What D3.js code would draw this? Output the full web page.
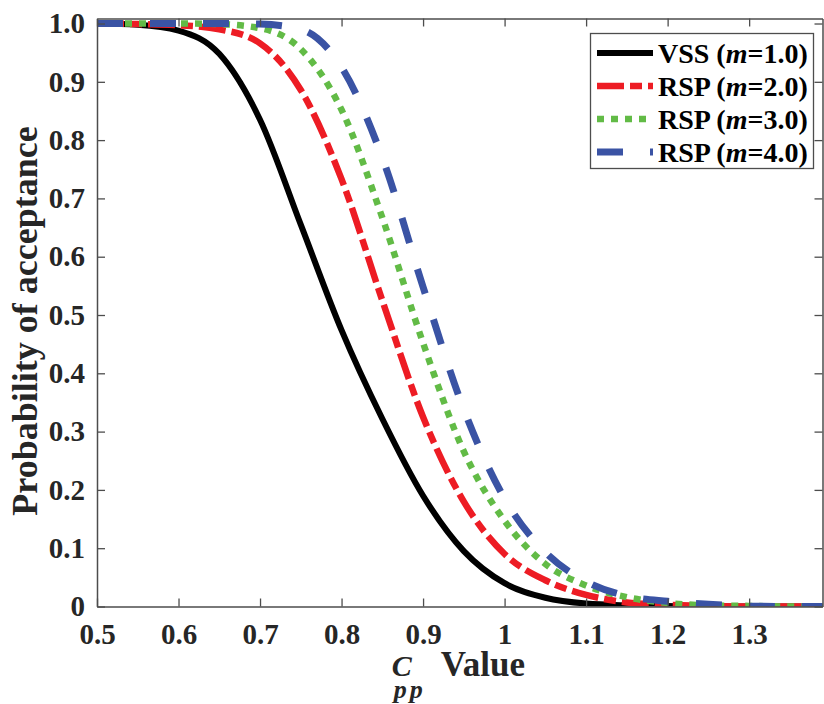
<!DOCTYPE html>
<html>
<head>
<meta charset="utf-8">
<script src="https://cdn.jsdelivr.net/npm/d3@7"></script>
<style>
  body { margin: 0; background: #fff; }
</style>
</head>
<body>
<div id="chart"></div>
<script>
// Cpp values and acceptance probabilities
var cppValues = [0.5, 0.55, 0.6, 0.65, 0.7, 0.75, 0.8, 0.85, 0.9, 0.95, 1.0, 1.05, 1.1, 1.15, 1.2, 1.25, 1.3, 1.35, 1.4];
var vssM1  = [1.000, 0.998, 0.988, 0.948, 0.835, 0.655, 0.474, 0.322, 0.190, 0.095, 0.040, 0.015, 0.005, 0.002, 0.001, 0, 0, 0, 0];
var rspM2  = [1.000, 0.999, 0.997, 0.990, 0.966, 0.886, 0.733, 0.525, 0.325, 0.180, 0.090, 0.045, 0.020, 0.007, 0.003, 0.001, 0, 0, 0];
var rspM3  = [1.000, 1.000, 1.000, 0.999, 0.992, 0.956, 0.852, 0.667, 0.452, 0.266, 0.147, 0.073, 0.036, 0.016, 0.006, 0.002, 0.001, 0, 0];
var rspM4  = [1.000, 1.000, 1.000, 1.000, 0.999, 0.990, 0.925, 0.770, 0.548, 0.338, 0.185, 0.093, 0.043, 0.018, 0.009, 0.004, 0.001, 0, 0];

var seriesNames = ["VSS", "RSP", "RSP", "RSP"];
var seriesM = ["1.0", "2.0", "3.0", "4.0"];

var xTicks = [0.5, 0.6, 0.7, 0.8, 0.9, 1.0, 1.1, 1.2, 1.3];
var xTickLabels = ["0.5", "0.6", "0.7", "0.8", "0.9", "1", "1.1", "1.2", "1.3"];
var yTicks = [0, 0.1, 0.2, 0.3, 0.4, 0.5, 0.6, 0.7, 0.8, 0.9, 1.0];
var yTickLabels = ["0", "0.1", "0.2", "0.3", "0.4", "0.5", "0.6", "0.7", "0.8", "0.9", "1.0"];

var serifFont = "'Liberation Serif', 'Times New Roman', Times, serif";

function drawOC(placement, width, height) {
    var margins = {top: 18.5, right: 1.5, bottom: 97.5, left: 97};
    var axisColor = "#4d4d4d";

    var svg = d3.select(placement).append("svg")
        .attr("width", width).attr("height", height)
        .attr("viewBox", [0, 0, width, height]);

    var x = d3.scaleLinear()
        .domain([0.5, 1.39])
        .range([margins.left, width - margins.right]);
    var y = d3.scaleLinear()
        .domain([0, 1.0086])
        .range([height - margins.bottom, margins.top]);

    var styles = [
        {data: vssM1, color: "#000000", width: 6, dash: null},
        {data: rspM2, color: "#ed1c24", width: 6.5, dash: "27,6,12,6"},
        {data: rspM3, color: "#62bb46", width: 6.5, dash: "7,7"},
        {data: rspM4, color: "#3a53a4", width: 7, dash: "26,27"}
    ];

    svg.append("clipPath").attr("id", "plotClip")
        .append("rect")
        .attr("x", x.range()[0]).attr("y", y.range()[1])
        .attr("width", x.range()[1] - x.range()[0])
        .attr("height", y.range()[0] - y.range()[1]);

    var line = d3.line()
        .curve(d3.curveMonotoneX)
        .x(function(d) { return x(d[0]); })
        .y(function(d) { return y(d[1]); });

    svg.append("g").attr("clip-path", "url(#plotClip)")
        .selectAll("path")
        .data(styles)
        .enter().append("path")
        .attr("d", function(s) { return line(cppValues.map(function(c, i) { return [c, s.data[i]]; })); })
        .attr("fill", "none")
        .attr("stroke", function(s) { return s.color; })
        .attr("stroke-width", function(s) { return s.width; })
        .attr("stroke-dasharray", function(s) { return s.dash; })
        .attr("stroke-linecap", "butt");

    // axes, ticks pointing inwards on all four sides
    var bottom = svg.append("g")
        .attr("transform", "translate(0," + y.range()[0] + ")")
        .call(d3.axisBottom(x).tickValues(xTicks)
            .tickFormat(function(d, i) { return xTickLabels[i]; })
            .tickSizeInner(-8).tickSizeOuter(0).tickPadding(17));
    var left = svg.append("g")
        .attr("transform", "translate(" + x.range()[0] + ",0)")
        .call(d3.axisLeft(y).tickValues(yTicks)
            .tickFormat(function(d, i) { return yTickLabels[i]; })
            .tickSizeInner(-8).tickSizeOuter(0).tickPadding(12));
    var top = svg.append("g")
        .attr("transform", "translate(0," + y.range()[1] + ")")
        .call(d3.axisTop(x).tickValues(xTicks).tickFormat("")
            .tickSizeInner(-8).tickSizeOuter(0));
    var right = svg.append("g")
        .attr("transform", "translate(" + x.range()[1] + ",0)")
        .call(d3.axisRight(y).tickValues(yTicks).tickFormat("")
            .tickSizeInner(-8).tickSizeOuter(0));

    [bottom, left, top, right].forEach(function(g) {
        g.select(".domain").attr("stroke", axisColor).attr("stroke-width", 1.5);
        g.selectAll(".tick line").attr("stroke", axisColor).attr("stroke-width", 1.3);
        g.selectAll("text")
            .style("font-family", serifFont)
            .style("font-weight", "bold")
            .style("font-size", "29px")
            .attr("fill", "#262626");
    });

    // y axis title
    svg.append("text")
        .attr("transform", "translate(37,321) rotate(-90)")
        .attr("text-anchor", "middle")
        .style("font-family", serifFont).style("font-weight", "bold").style("font-size", "36px")
        .attr("fill", "#262626")
        .text("Probability of acceptance");

    // x axis title: C_pp Value
    var xt = svg.append("g")
        .attr("transform", "translate(" + ((x.range()[0] + x.range()[1]) / 2) + "," + (height - 28) + ")")
        .attr("fill", "#262626")
        .style("font-family", serifFont).style("font-weight", "bold");
    xt.append("text").attr("x", -68).style("font-size", "30px").style("font-style", "italic").text("C");
    xt.append("text").attr("x", -66).attr("y", 22).style("font-size", "26px").style("font-style", "italic")
        .attr("letter-spacing", "3px").text("pp");
    xt.append("text").attr("x", -19).style("font-size", "35px").text("Value");

    // legend
    var lg = svg.append("g").attr("class", "legend");
    lg.append("rect")
        .attr("x", 590.5).attr("y", 33.5).attr("width", 223).attr("height", 135)
        .attr("fill", "#fff").attr("stroke", axisColor).attr("stroke-width", 1.3);

    var item = lg.selectAll(".item")
        .data(styles)
        .enter().append("g")
        .attr("class", "item")
        .attr("transform", function(d, i) { return "translate(0," + (53 + i * 33) + ")"; });

    item.append("line")
        .attr("x1", 597).attr("x2", 653)
        .attr("stroke", function(s) { return s.color; })
        .attr("stroke-width", function(s) { return s.width; })
        .attr("stroke-dasharray", function(s) { return s.dash; });

    var label = item.append("text")
        .attr("x", 658).attr("y", 10)
        .style("font-family", serifFont).style("font-weight", "bold").style("font-size", "28px")
        .attr("fill", "#000");
    label.append("tspan").text(function(d, i) { return seriesNames[i] + " ("; });
    label.append("tspan").style("font-style", "italic").text("m");
    label.append("tspan").text(function(d, i) { return "=" + seriesM[i] + ")"; });
}

drawOC("#chart", 824, 704);
</script>
</body>
</html>
